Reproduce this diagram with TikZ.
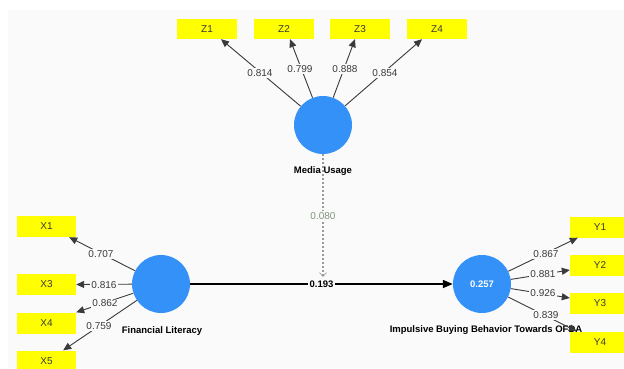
\documentclass[tikz,border=0pt]{standalone}
\usepackage{fontspec}
\setmainfont{Liberation Sans}
\usetikzlibrary{arrows.meta,calc}
\definecolor{canvas}{HTML}{FAFAFA}
\definecolor{latent}{HTML}{3491F8}
\definecolor{indic}{HTML}{FFFF00}
\definecolor{ink}{HTML}{3A3A3A}
\definecolor{modtxt}{HTML}{7F977B}
\definecolor{modline}{HTML}{9A9A9A}
\begin{document}
\begin{tikzpicture}[x=1pt,y=-1pt,
  latentvar/.style={circle, fill=latent, minimum size=58pt, inner sep=0pt,
    text=white, font=\bfseries\fontsize{9.5}{10}\selectfont},
  indbox/.style={fill=indic, minimum height=20pt, inner sep=0pt,
    text=ink, font=\fontsize{10}{11}\selectfont},
  zbox/.style={indbox, minimum width=60pt},
  xbox/.style={indbox, minimum width=59pt, minimum height=21pt},
  ybox/.style={indbox, minimum width=60pt, minimum height=21pt},
  load/.style={draw=ink, line width=0.9pt, -{Triangle[length=8pt,width=7pt]}},
  lval/.style={fill=canvas, inner sep=1pt, text=ink, font=\fontsize{10}{11}\selectfont},
  lvname/.style={text=black, font=\bfseries\fontsize{9.5}{10}\selectfont},
  pathline/.style={draw=black, line width=1.7pt, -{Triangle[length=10pt,width=8pt]}},
  coef/.style={fill=canvas, inner sep=1.5pt, text=black, font=\bfseries\fontsize{9.5}{10}\selectfont},
  modpath/.style={draw=modline, line width=1.1pt, dash pattern=on 2pt off 2pt,
    -{Straight Barb[length=4pt,width=7pt,line width=0.6pt]}},
  modval/.style={fill=canvas, inner sep=1.5pt, text=modtxt, font=\fontsize{10}{11}\selectfont}
]
\useasboundingbox (0,0) rectangle (624,368);
\fill[white] (0,0) rectangle (624,368);
\fill[canvas] (8,10) rectangle (624,368);

% latent variables
\node[latentvar] (mu)  at (323,125) {};
\node[latentvar] (fl)  at (161,284) {};
\node[latentvar] (ibb) at (482,284) {0.257};
\node[lvname] (muname)  at (323,171) {Media Usage};
\node[lvname] (flname)  at (162,331) {Financial Literacy};
\node[lvname] (ibbname) at (486,330) {Impulsive Buying Behavior Towards OFDA};

% indicators
\node[zbox] (z1) at (207,29) {Z1};
\node[zbox] (z2) at (284,29) {Z2};
\node[zbox] (z3) at (360,29) {Z3};
\node[zbox] (z4) at (437,29) {Z4};

\node[xbox] (x1) at (46.5,226.5) {X1};
\node[xbox] (x3) at (46.5,284.5) {X3};
\node[xbox] (x4) at (46.5,323) {X4};
\node[xbox] (x5) at (46.5,361) {X5};

\node[ybox] (y1) at (600,227) {Y1};
\node[ybox] (y2) at (600,265.5) {Y2};
\node[ybox] (y3) at (600,303.5) {Y3};
\node[ybox] (y4) at (600,342) {Y4};

% outer loadings of Media Usage
\draw[load] (mu) -- ($(z1.south)+(14,0)$);
\draw[load] (mu) -- ($(z2.south)+(6,0)$);
\draw[load] (mu) -- ($(z3.south)+(-5,0)$);
\draw[load] (mu) -- ($(z4.south)+(-15,0)$);
\node[lval] (lz1) at (260,73) {0.814};
\node[lval] (lz2) at (300,69) {0.799};
\node[lval] (lz3) at (345,69) {0.888};
\node[lval] (lz4) at (385,73) {0.854};

% outer loadings of Financial Literacy
\draw[load] (fl) -- ($(x1.south east)+(-7,0)$);
\draw[load] (fl) -- (x3.east);
\draw[load] (fl) -- (x4.north east);
\draw[load] (fl) -- ($(x5.north east)+(-13,0)$);
\node[lval] (lx1) at (101,254) {0.707};
\node[lval] (lx3) at (104,285) {0.816};
\node[lval] (lx4) at (105,303.5) {0.862};
\node[lval] (lx5) at (99,326) {0.759};

% outer loadings of Impulsive Buying Behavior
\draw[load] (ibb) -- ($(y1.south west)+(8,0)$);
\draw[load] (ibb) -- ($(y2.west)+(0,4.5)$);
\draw[load] (ibb) -- ($(y3.west)+(0,-5.5)$);
\draw[load] (ibb) -- ($(y4.north west)+(7,0)$);
\node[lval] (ly1) at (546,254) {0.867};
\node[lval] (ly2) at (543,274.5) {0.881};
\node[lval] (ly3) at (543,293.5) {0.926};
\node[lval] (ly4) at (546,315) {0.839};

% structural path and moderating effect
\coordinate (modend) at (323,277);
\draw[modpath] (mu) -- (modend) node[modval, pos=0.5] {0.080};
\draw[pathline] (fl) -- (ibb) node[coef, pos=0.5] {0.193};
\end{tikzpicture}
\end{document}
